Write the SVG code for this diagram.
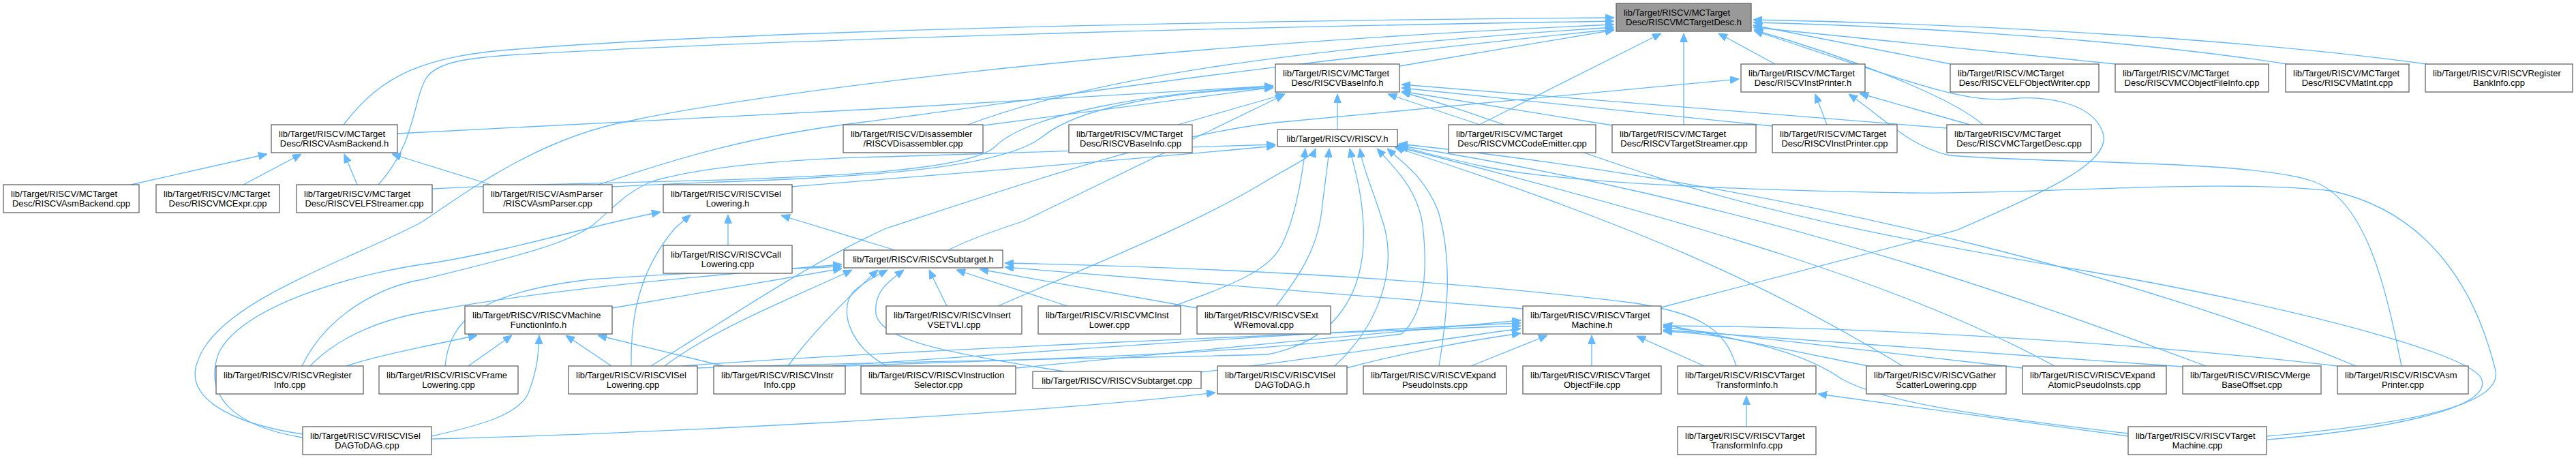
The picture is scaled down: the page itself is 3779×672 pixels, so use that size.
<svg xmlns="http://www.w3.org/2000/svg" width="3779" height="672" viewBox="0 0 3779 672">
<style>
.n rect{fill:#fff;stroke:#666;stroke-width:1.3}
.root rect{fill:#999}
text{font-family:"Liberation Sans",Arial,Helvetica,sans-serif;font-size:13px;fill:#000}
.m{text-anchor:middle}
#edges path{fill:none;stroke:#63b8ff;stroke-width:1.3;marker-end:url(#a)}
</style>
<defs>
<marker id="a" viewBox="0 0 13 11" refX="13" refY="5.5" markerWidth="13" markerHeight="11" markerUnits="userSpaceOnUse" orient="auto"><path d="M0,0 L13,5.5 L0,11 z" fill="#63b8ff" stroke="#63b8ff" stroke-width="1"/></marker>
</defs>
<rect width="3779" height="672" fill="#fff"/>
<g id="edges">
<path d="M2053,97 L2368,44"/>
<path d="M2604,94 L2521,49"/>
<path d="M2862,94 L2572,37"/>
<path d="M3104,94 L2572,40"/>
<path d="M3355,94 C3150,62 2850,40 2572,33"/>
<path d="M3560,94 C3300,58 2900,35 2572,29"/>
<path d="M2170,183 L2437,49"/>
<path d="M2470,183 L2470,49"/>
<path d="M2909,183 C2860,140 2700,80 2573,44"/>
<path d="M504,183 C560,110 620,82 760,72 C1100,45 1800,30 2368,26"/>
<path d="M555,271 C610,210 605,150 625,115 C640,92 680,85 760,80 C1200,55 1900,38 2368,31"/>
<path d="M444,637 C330,620 270,580 290,530 C320,440 520,380 620,325 C700,270 800,200 926,177 C1100,140 1600,70 2368,36"/>
<path d="M2437,451 L2870,338 C2990,285 3100,240 3085,195 C3070,150 3000,140 2950,145 C2880,150 2830,130 2573,45"/>
<path d="M1420,183 C1600,115 1900,70 2368,40"/>
<path d="M878,271 C1000,230 1100,200 1260,180 C1500,150 1800,100 2368,43"/>
<path d="M583,196 C900,180 1500,150 1868,126"/>
<path d="M1443,184 L1868,128"/>
<path d="M898,274 C1100,262 1450,265 1530,200 C1580,160 1700,135 1868,129"/>
<path d="M634,277 C900,262 1400,272 1460,215 C1510,165 1700,135 1868,127"/>
<path d="M1728,183 L1885,138"/>
<path d="M1962,190 L1962,138"/>
<path d="M2171,183 L2036,138"/>
<path d="M2366,184 L2056,134"/>
<path d="M2600,185 L2056,129"/>
<path d="M2856,188 L2056,124"/>
<path d="M1391,367 C1420,352 1460,338 1500,325 L1884,139"/>
<path d="M3326,645 C3500,630 3660,600 3640,555 C3620,520 3400,460 3120,408 C2900,370 2640,330 2400,250 C2250,200 2150,160 2056,135"/>
<path d="M2680,183 L2663,138"/>
<path d="M2890,183 L2728,137"/>
<path d="M3523,537 C3500,420 3470,290 3390,265 C3300,235 3000,240 2860,228 C2800,215 2760,170 2712,138"/>
<path d="M955,537 C1080,460 1180,390 1300,335 C1500,270 1700,200 1870,180 L2551,116"/>
<path d="M192,271 L392,226"/>
<path d="M357,271 L442,226"/>
<path d="M524,271 L505,226"/>
<path d="M720,271 L575,226"/>
<path d="M444,642 C340,625 300,580 320,520 C350,450 520,400 640,385 C760,365 870,330 969,311"/>
<path d="M926,537 C925,470 935,400 990,335 L1013,315"/>
<path d="M1068,360 L1068,315"/>
<path d="M1313,367 L1146,316"/>
<path d="M443,537 C480,460 560,420 620,410 C740,380 830,360 870,330 C900,305 920,280 960,265 C1050,240 1200,232 1300,230 L1871,212"/>
<path d="M1162,274 C1300,262 1600,240 1871,214"/>
<path d="M1464,449 C1600,390 1750,330 1850,270 C1900,240 1925,230 1930,218"/>
<path d="M1722,449 C1800,420 1860,400 1880,360 C1900,320 1910,260 1915,218"/>
<path d="M1872,449 C1910,400 1935,360 1940,300 C1945,260 1948,240 1950,218"/>
<path d="M1958,537 C2020,480 2050,400 2030,330 C2015,280 2000,250 1995,218"/>
<path d="M2111,537 C2125,450 2130,380 2110,310 C2090,260 2060,240 2035,218"/>
<path d="M2791,537 C2600,420 2400,330 2046,216"/>
<path d="M3014,537 C2800,420 2500,330 2048,215"/>
<path d="M3236,537 C3000,450 2600,300 2050,213"/>
<path d="M3456,537 C3200,430 2700,280 2052,211"/>
<path d="M3326,640 C3500,625 3680,600 3660,540 C3630,420 3560,310 3420,280 C3250,262 3000,285 2800,283 C2600,280 2300,270 2180,245 C2120,232 2080,222 2053,214"/>
<path d="M1023,540 C1300,530 1700,525 1860,520 C1960,500 2005,430 2000,330 C1998,280 1985,240 1980,218"/>
<path d="M1240,537 C1500,527 1800,522 2056,490 C2090,460 2095,400 2087,330 C2080,280 2050,250 2020,218"/>
<path d="M2335,537 L2335,492"/>
<path d="M2158,537 L2270,492"/>
<path d="M2500,537 L2401,493"/>
<path d="M1975,540 C2050,520 2150,500 2231,489"/>
<path d="M1000,537 C1300,515 1900,490 2231,478"/>
<path d="M1220,537 C1500,518 1900,488 2231,474"/>
<path d="M1490,540 C1700,520 2000,490 2231,470"/>
<path d="M1762,546 C1900,530 2100,500 2231,482"/>
<path d="M2740,537 L2440,476"/>
<path d="M2967,540 L2440,480"/>
<path d="M3202,538 L2440,484"/>
<path d="M3429,537 C3200,510 2800,480 2440,478"/>
<path d="M3122,636 C2900,610 2760,590 2700,555 C2650,520 2550,490 2440,486"/>
<path d="M2547,537 C2530,480 2490,460 2400,445 C2200,420 1900,395 1474,386"/>
<path d="M2234,453 C2000,435 1700,410 1474,392"/>
<path d="M1389,449 L1363,396"/>
<path d="M1566,449 L1403,396"/>
<path d="M1756,452 L1437,395"/>
<path d="M975,537 C1050,480 1180,430 1250,396"/>
<path d="M1156,537 C1190,490 1240,440 1288,396"/>
<path d="M1301,537 C1250,510 1230,460 1250,430 C1265,415 1285,405 1302,396"/>
<path d="M1562,545 C1400,520 1290,500 1285,460 C1282,430 1300,415 1326,396"/>
<path d="M653,537 C660,470 700,430 865,410 C1000,400 1150,395 1235,391"/>
<path d="M455,537 C500,490 570,465 640,455 C750,435 900,415 1235,388"/>
<path d="M508,537 C560,520 640,505 700,492"/>
<path d="M687,537 L751,492"/>
<path d="M633,640 C700,625 760,610 775,577 C785,550 790,530 791,492"/>
<path d="M897,537 L830,492"/>
<path d="M1061,537 L877,492"/>
<path d="M898,452 L1235,394"/>
<path d="M633,644 C900,638 1500,610 1783,576"/>
<path d="M2562,626 L2562,581"/>
<path d="M3122,640 L2667,578"/>
</g>
<g id="n_R" class="n root"><rect x="2371" y="5" width="198" height="41"/><text x="2382" y="22.5">lib/Target/RISCV/MCTarget</text><text class="m" x="2470" y="37">Desc/RISCVMCTargetDesc.h</text></g>
<g id="n_BIh" class="n"><rect x="1871" y="94" width="182" height="41"/><text x="1882" y="111.5">lib/Target/RISCV/MCTarget</text><text class="m" x="1962" y="126">Desc/RISCVBaseInfo.h</text></g>
<g id="n_IPh" class="n"><rect x="2554" y="94" width="182" height="41"/><text x="2565" y="111.5">lib/Target/RISCV/MCTarget</text><text class="m" x="2645" y="126">Desc/RISCVInstPrinter.h</text></g>
<g id="n_EOW" class="n"><rect x="2861" y="94" width="218" height="41"/><text x="2872" y="111.5">lib/Target/RISCV/MCTarget</text><text class="m" x="2970" y="126">Desc/RISCVELFObjectWriter.cpp</text></g>
<g id="n_MOFI" class="n"><rect x="3103" y="94" width="225" height="41"/><text x="3114" y="111.5">lib/Target/RISCV/MCTarget</text><text class="m" x="3215.5" y="126">Desc/RISCVMCObjectFileInfo.cpp</text></g>
<g id="n_MI" class="n"><rect x="3353" y="94" width="181" height="41"/><text x="3364" y="111.5">lib/Target/RISCV/MCTarget</text><text class="m" x="3443.5" y="126">Desc/RISCVMatInt.cpp</text></g>
<g id="n_RBI" class="n"><rect x="3558" y="94" width="216" height="41"/><text x="3569" y="111.5">lib/Target/RISCV/RISCVRegister</text><text class="m" x="3666" y="126">BankInfo.cpp</text></g>
<g id="n_ABh" class="n"><rect x="398" y="183" width="185" height="41"/><text x="409" y="200.5">lib/Target/RISCV/MCTarget</text><text class="m" x="490.5" y="215">Desc/RISCVAsmBackend.h</text></g>
<g id="n_DIS" class="n"><rect x="1237" y="183" width="205" height="41"/><text x="1248" y="200.5">lib/Target/RISCV/Disassembler</text><text class="m" x="1339.5" y="215">/RISCVDisassembler.cpp</text></g>
<g id="n_BIc" class="n"><rect x="1568" y="183" width="181" height="41"/><text x="1579" y="200.5">lib/Target/RISCV/MCTarget</text><text class="m" x="1658.5" y="215">Desc/RISCVBaseInfo.cpp</text></g>
<g id="n_RV" class="n"><rect x="1874" y="190" width="176" height="25"/><text class="m" x="1962" y="207.5">lib/Target/RISCV/RISCV.h</text></g>
<g id="n_MCE" class="n"><rect x="2125" y="183" width="216" height="41"/><text x="2136" y="200.5">lib/Target/RISCV/MCTarget</text><text class="m" x="2233" y="215">Desc/RISCVMCCodeEmitter.cpp</text></g>
<g id="n_TS" class="n"><rect x="2365" y="183" width="211" height="41"/><text x="2376" y="200.5">lib/Target/RISCV/MCTarget</text><text class="m" x="2470.5" y="215">Desc/RISCVTargetStreamer.cpp</text></g>
<g id="n_IPc" class="n"><rect x="2600" y="183" width="183" height="41"/><text x="2611" y="200.5">lib/Target/RISCV/MCTarget</text><text class="m" x="2691.5" y="215">Desc/RISCVInstPrinter.cpp</text></g>
<g id="n_MTDc" class="n"><rect x="2856" y="183" width="212" height="41"/><text x="2867" y="200.5">lib/Target/RISCV/MCTarget</text><text class="m" x="2962" y="215">Desc/RISCVMCTargetDesc.cpp</text></g>
<g id="n_ABc" class="n"><rect x="5" y="271" width="199" height="41"/><text x="16" y="288.5">lib/Target/RISCV/MCTarget</text><text class="m" x="104.5" y="303">Desc/RISCVAsmBackend.cpp</text></g>
<g id="n_MCX" class="n"><rect x="229" y="271" width="181" height="41"/><text x="240" y="288.5">lib/Target/RISCV/MCTarget</text><text class="m" x="319.5" y="303">Desc/RISCVMCExpr.cpp</text></g>
<g id="n_ELFS" class="n"><rect x="435" y="271" width="199" height="41"/><text x="446" y="288.5">lib/Target/RISCV/MCTarget</text><text class="m" x="534.5" y="303">Desc/RISCVELFStreamer.cpp</text></g>
<g id="n_AP" class="n"><rect x="709" y="271" width="189" height="41"/><text x="720" y="288.5">lib/Target/RISCV/AsmParser</text><text class="m" x="803.5" y="303">/RISCVAsmParser.cpp</text></g>
<g id="n_ISLh" class="n"><rect x="973" y="271" width="189" height="41"/><text x="984" y="288.5">lib/Target/RISCV/RISCVISel</text><text class="m" x="1067.5" y="303">Lowering.h</text></g>
<g id="n_CL" class="n"><rect x="973" y="360" width="189" height="41"/><text x="984" y="377.5">lib/Target/RISCV/RISCVCall</text><text class="m" x="1067.5" y="392">Lowering.cpp</text></g>
<g id="n_STh" class="n"><rect x="1238" y="367" width="233" height="26"/><text class="m" x="1354.5" y="384.5">lib/Target/RISCV/RISCVSubtarget.h</text></g>
<g id="n_MFI" class="n"><rect x="682" y="449" width="216" height="41"/><text x="693" y="466.5">lib/Target/RISCV/RISCVMachine</text><text class="m" x="790" y="481">FunctionInfo.h</text></g>
<g id="n_IVS" class="n"><rect x="1300" y="449" width="199" height="41"/><text x="1311" y="466.5">lib/Target/RISCV/RISCVInsert</text><text class="m" x="1399.5" y="481">VSETVLI.cpp</text></g>
<g id="n_MIL" class="n"><rect x="1523" y="449" width="209" height="41"/><text x="1534" y="466.5">lib/Target/RISCV/RISCVMCInst</text><text class="m" x="1627.5" y="481">Lower.cpp</text></g>
<g id="n_SEW" class="n"><rect x="1756" y="449" width="196" height="41"/><text x="1767" y="466.5">lib/Target/RISCV/RISCVSExt</text><text class="m" x="1854" y="481">WRemoval.cpp</text></g>
<g id="n_TMh" class="n"><rect x="2234" y="449" width="203" height="41"/><text x="2245" y="466.5">lib/Target/RISCV/RISCVTarget</text><text class="m" x="2335.5" y="481">Machine.h</text></g>
<g id="n_RI" class="n"><rect x="317" y="537" width="216" height="41"/><text x="328" y="554.5">lib/Target/RISCV/RISCVRegister</text><text class="m" x="425" y="569">Info.cpp</text></g>
<g id="n_FL" class="n"><rect x="556" y="537" width="204" height="41"/><text x="567" y="554.5">lib/Target/RISCV/RISCVFrame</text><text class="m" x="658" y="569">Lowering.cpp</text></g>
<g id="n_ISLc" class="n"><rect x="834" y="537" width="189" height="41"/><text x="845" y="554.5">lib/Target/RISCV/RISCVISel</text><text class="m" x="928.5" y="569">Lowering.cpp</text></g>
<g id="n_II" class="n"><rect x="1047" y="537" width="193" height="41"/><text x="1058" y="554.5">lib/Target/RISCV/RISCVInstr</text><text class="m" x="1143.5" y="569">Info.cpp</text></g>
<g id="n_IS" class="n"><rect x="1263" y="537" width="227" height="41"/><text x="1274" y="554.5">lib/Target/RISCV/RISCVInstruction</text><text class="m" x="1376.5" y="569">Selector.cpp</text></g>
<g id="n_STc" class="n"><rect x="1515" y="545" width="247" height="25"/><text class="m" x="1638.5" y="562.5">lib/Target/RISCV/RISCVSubtarget.cpp</text></g>
<g id="n_DAGh" class="n"><rect x="1786" y="537" width="190" height="41"/><text x="1797" y="554.5">lib/Target/RISCV/RISCVISel</text><text class="m" x="1881" y="569">DAGToDAG.h</text></g>
<g id="n_EPI" class="n"><rect x="2000" y="537" width="210" height="41"/><text x="2011" y="554.5">lib/Target/RISCV/RISCVExpand</text><text class="m" x="2105" y="569">PseudoInsts.cpp</text></g>
<g id="n_TOF" class="n"><rect x="2234" y="537" width="203" height="41"/><text x="2245" y="554.5">lib/Target/RISCV/RISCVTarget</text><text class="m" x="2335.5" y="569">ObjectFile.cpp</text></g>
<g id="n_TTIh" class="n"><rect x="2461" y="537" width="203" height="41"/><text x="2472" y="554.5">lib/Target/RISCV/RISCVTarget</text><text class="m" x="2562.5" y="569">TransformInfo.h</text></g>
<g id="n_GSL" class="n"><rect x="2738" y="537" width="205" height="41"/><text x="2749" y="554.5">lib/Target/RISCV/RISCVGather</text><text class="m" x="2840.5" y="569">ScatterLowering.cpp</text></g>
<g id="n_EAPI" class="n"><rect x="2967" y="537" width="211" height="41"/><text x="2978" y="554.5">lib/Target/RISCV/RISCVExpand</text><text class="m" x="3072.5" y="569">AtomicPseudoInsts.cpp</text></g>
<g id="n_MBO" class="n"><rect x="3202" y="537" width="203" height="41"/><text x="3213" y="554.5">lib/Target/RISCV/RISCVMerge</text><text class="m" x="3303.5" y="569">BaseOffset.cpp</text></g>
<g id="n_ASMP" class="n"><rect x="3429" y="537" width="192" height="41"/><text x="3440" y="554.5">lib/Target/RISCV/RISCVAsm</text><text class="m" x="3525" y="569">Printer.cpp</text></g>
<g id="n_DAGc" class="n"><rect x="444" y="626" width="189" height="41"/><text x="455" y="643.5">lib/Target/RISCV/RISCVISel</text><text class="m" x="538.5" y="658">DAGToDAG.cpp</text></g>
<g id="n_TTIc" class="n"><rect x="2461" y="626" width="203" height="41"/><text x="2472" y="643.5">lib/Target/RISCV/RISCVTarget</text><text class="m" x="2562.5" y="658">TransformInfo.cpp</text></g>
<g id="n_TMc" class="n"><rect x="3122" y="626" width="203" height="41"/><text x="3133" y="643.5">lib/Target/RISCV/RISCVTarget</text><text class="m" x="3223.5" y="658">Machine.cpp</text></g>
</svg>
